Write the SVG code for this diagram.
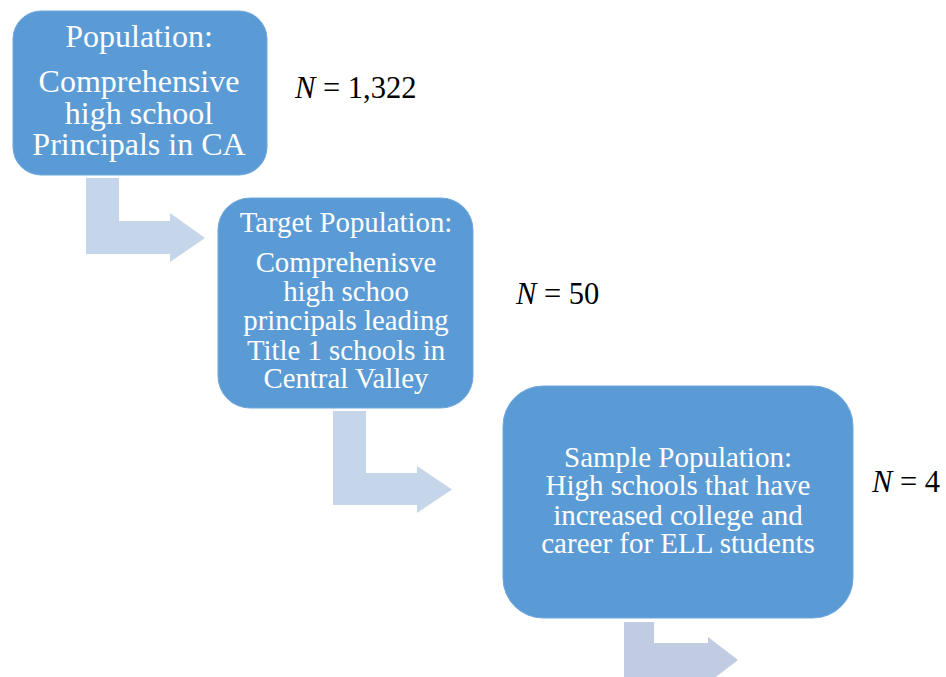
<svg xmlns="http://www.w3.org/2000/svg" width="946" height="677" viewBox="0 0 946 677">
<style>
.box{fill:#5B9BD5;stroke:#6FA8DC;stroke-width:1}
.t{font-family:"Liberation Serif","Times New Roman",serif;fill:#FFFFFF;text-anchor:middle}
.n{font-family:"Liberation Serif","Times New Roman",serif;fill:#000000;font-size:30.5px}
.arr{fill:#C5D5EA}
.arr3{fill:#C1CCE2}
</style>
<rect width="946" height="677" fill="#FFFFFF"/>
<g id="connectors">
<polygon class="arr" points="86,178 119,178 119,221 170,221 170,213 205,238 170,262 170,254 86,254"/>
<polygon class="arr" points="333,411 366,411 366,473 417,473 417,466 452,489.5 417,513 417,505 333,505"/>
<polygon class="arr3" points="624,622 654,622 654,643 708,643 708,637 738,660 708,683 708,677 624,677"/>
</g>
<g id="node1">
<rect class="box" x="13" y="11" width="254" height="164" rx="28" ry="28"/>
<text class="t" font-size="32" x="139" y="47">Population:</text>
<text class="t" font-size="32" x="139" y="92">Comprehensive</text>
<text class="t" font-size="32" x="139" y="124">high school</text>
<text class="t" font-size="32" x="139" y="155">Principals in CA</text>
</g>
<g id="node2">
<rect class="box" x="218" y="198" width="255" height="210" rx="32" ry="32"/>
<text class="t" font-size="28.8" x="346" y="232">Target Population:</text>
<text class="t" font-size="28.8" x="346" y="272">Comprehenisve</text>
<text class="t" font-size="28.8" x="346" y="301">high schoo</text>
<text class="t" font-size="28.8" x="346" y="330">principals leading</text>
<text class="t" font-size="28.8" x="346" y="360">Title 1 schools in</text>
<text class="t" font-size="28.8" x="346" y="388">Central Valley</text>
</g>
<g id="node3">
<rect class="box" x="503" y="386" width="350" height="232" rx="40" ry="40"/>
<text class="t" font-size="29" x="678" y="467">Sample Population:</text>
<text class="t" font-size="29" x="678" y="495">High schools that have</text>
<text class="t" font-size="29" x="678" y="525">increased college and</text>
<text class="t" font-size="29" x="678" y="553">career for ELL students</text>
</g>
<g id="labels">
<text class="n" x="295" y="98"><tspan font-style="italic">N</tspan> = 1,322</text>
<text class="n" x="516" y="304"><tspan font-style="italic">N</tspan> = 50</text>
<text class="n" x="872" y="492"><tspan font-style="italic">N</tspan> = 4</text>
</g>
</svg>
